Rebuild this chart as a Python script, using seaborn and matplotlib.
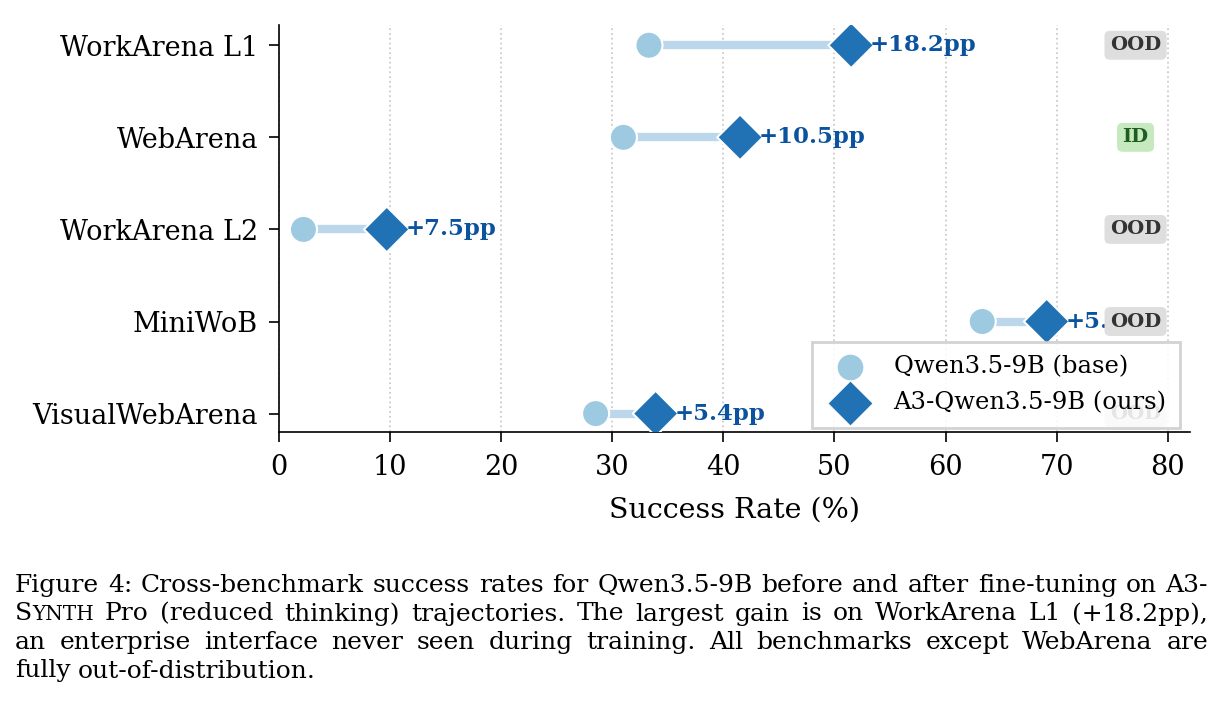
import matplotlib
matplotlib.use("Agg")
import matplotlib.pyplot as plt
import seaborn as sns
import pandas as pd

# data
benchmarks = ["WorkArena L1", "WebArena", "WorkArena L2", "MiniWoB", "VisualWebArena"]
base_rate = [33.3, 31.0, 2.2, 63.3, 28.5]
ours_rate = [51.5, 41.5, 9.7, 69.1, 33.9]
split = ["OOD", "ID", "OOD", "OOD", "OOD"]

base_name = "Qwen3.5-9B (base)"
ours_name = "A3-Qwen3.5-9B (ours)"

df = pd.DataFrame({
    "benchmark": benchmarks * 2,
    "rate": base_rate + ours_rate,
    "model": [base_name] * 5 + [ours_name] * 5,
})

sns.set_style("ticks")
plt.rcParams['font.family'] = ['DejaVu Serif']
plt.rcParams['text.color'] = 'black'
plt.rcParams['axes.labelcolor'] = 'black'

W, H = 1223, 720
fig = plt.figure(figsize=(W / 100, H / 100), dpi=100)
ax = fig.add_axes([279 / W, 1 - 432 / H, (1190 - 279) / W, (432 - 25) / H])

c_base = "#9ecae1"
c_ours = "#2171b5"
c_line = "#bcd6ec"
c_text = "#0b539e"

ypos = list(range(len(benchmarks)))

# connecting bars
ax.hlines(ypos, base_rate, ours_rate, color=c_line, lw=6, zorder=2)

sns.scatterplot(data=df, x="rate", y="benchmark", hue="model", style="model",
                palette={base_name: c_base, ours_name: c_ours},
                markers={base_name: "o", ours_name: "D"},
                size="model", sizes={base_name: 380, ours_name: 540},
                edgecolor="white", linewidth=1.5, zorder=3, ax=ax, legend=False)

# gain labels
for i, (b, o) in enumerate(zip(base_rate, ours_rate)):
    ax.text(o + 1.7, i, f"+{o - b:.1f}pp", color=c_text, fontsize=16.5,
            fontweight="bold", va="center", ha="left", zorder=4)

# split badges
for i, s in enumerate(split):
    if s == "ID":
        fc, tc = "#c7e9c0", "#1e5e20"
    else:
        fc, tc = "#dedede", "#333333"
    ax.text(77.1, i, s, fontsize=14, fontweight="bold", color=tc,
            ha="center", va="center", zorder=5,
            bbox=dict(boxstyle="round,pad=0.28", fc=fc, ec="none"))

ax.set_xlim(0, 82)
ax.set_ylim(4.2, -0.22)
ax.set_xticks(range(0, 81, 10))
ax.xaxis.grid(True, linestyle=":", color="#cccccc", lw=1.3)
ax.set_axisbelow(True)
sns.despine(ax=ax)
ax.tick_params(axis="both", labelsize=19.5, length=7, width=1.2, colors="black")
ax.tick_params(axis="y", pad=8)
ax.tick_params(axis="x", pad=9)
ax.spines["left"].set_linewidth(1.2)
ax.spines["bottom"].set_linewidth(1.2)
ax.spines["left"].set_color("black")
ax.spines["bottom"].set_color("black")
ax.set_ylabel("")
ax.set_xlabel("Success Rate (%)", fontsize=20.5, labelpad=11)

h1 = ax.scatter([], [], s=380, marker="o", color=c_base, edgecolor="white", label=base_name)
h2 = ax.scatter([], [], s=540, marker="D", color=c_ours, edgecolor="white", label=ours_name)
leg = ax.legend(handles=[h1, h2], loc="lower right", fontsize=17.5, fancybox=False,
                framealpha=0.88, edgecolor="#cccccc", borderpad=0.55, handletextpad=0.8,
                labelspacing=0.55, borderaxespad=0, bbox_to_anchor=(0.989, 0.01))
leg.get_frame().set_linewidth(2)
leg.set_zorder(10)

# caption, justified word by word
cap_font = "DejaVu Serif"
cap_size = 18
cap_lines = [
    "Figure 4: Cross-benchmark success rates for Qwen3.5-9B before and after fine-tuning on A3-",
    "SYNTH Pro (reduced thinking) trajectories. The largest gain is on WorkArena L1 (+18.2pp),",
    "an enterprise interface never seen during training. All benchmarks except WebArena are",
    "fully out-of-distribution.",
]
cap_y = [592, 620.5, 649, 677.5]
x_left, x_right = 15, 1208

renderer = fig.canvas.get_renderer()
for li, (line, yb) in enumerate(zip(cap_lines, cap_y)):
    words = line.split(" ")
    pieces = []
    for w in words:
        if w == "SYNTH":
            pieces.append([("S", cap_size), ("YNTH", cap_size * 0.8)])
        else:
            pieces.append([(w, cap_size)])
    widths = []
    for parts in pieces:
        tw = 0
        for txt, sz in parts:
            t = fig.text(0, 0, txt, fontsize=sz, family=cap_font)
            tw += t.get_window_extent(renderer).width
            t.remove()
        widths.append(tw)
    if li < len(cap_lines) - 1:
        gap = (x_right - x_left - sum(widths)) / (len(words) - 1)
    else:
        gap = cap_size * 0.3 * 100 / 72
    x = x_left
    for parts, w in zip(pieces, widths):
        xx = x
        for txt, sz in parts:
            t = fig.text(xx / W, 1 - yb / H, txt, fontsize=sz, family=cap_font,
                         va="baseline", ha="left", color="black")
            xx += t.get_window_extent(renderer).width
        x += w + gap

fig.savefig("out.png", dpi=100)
